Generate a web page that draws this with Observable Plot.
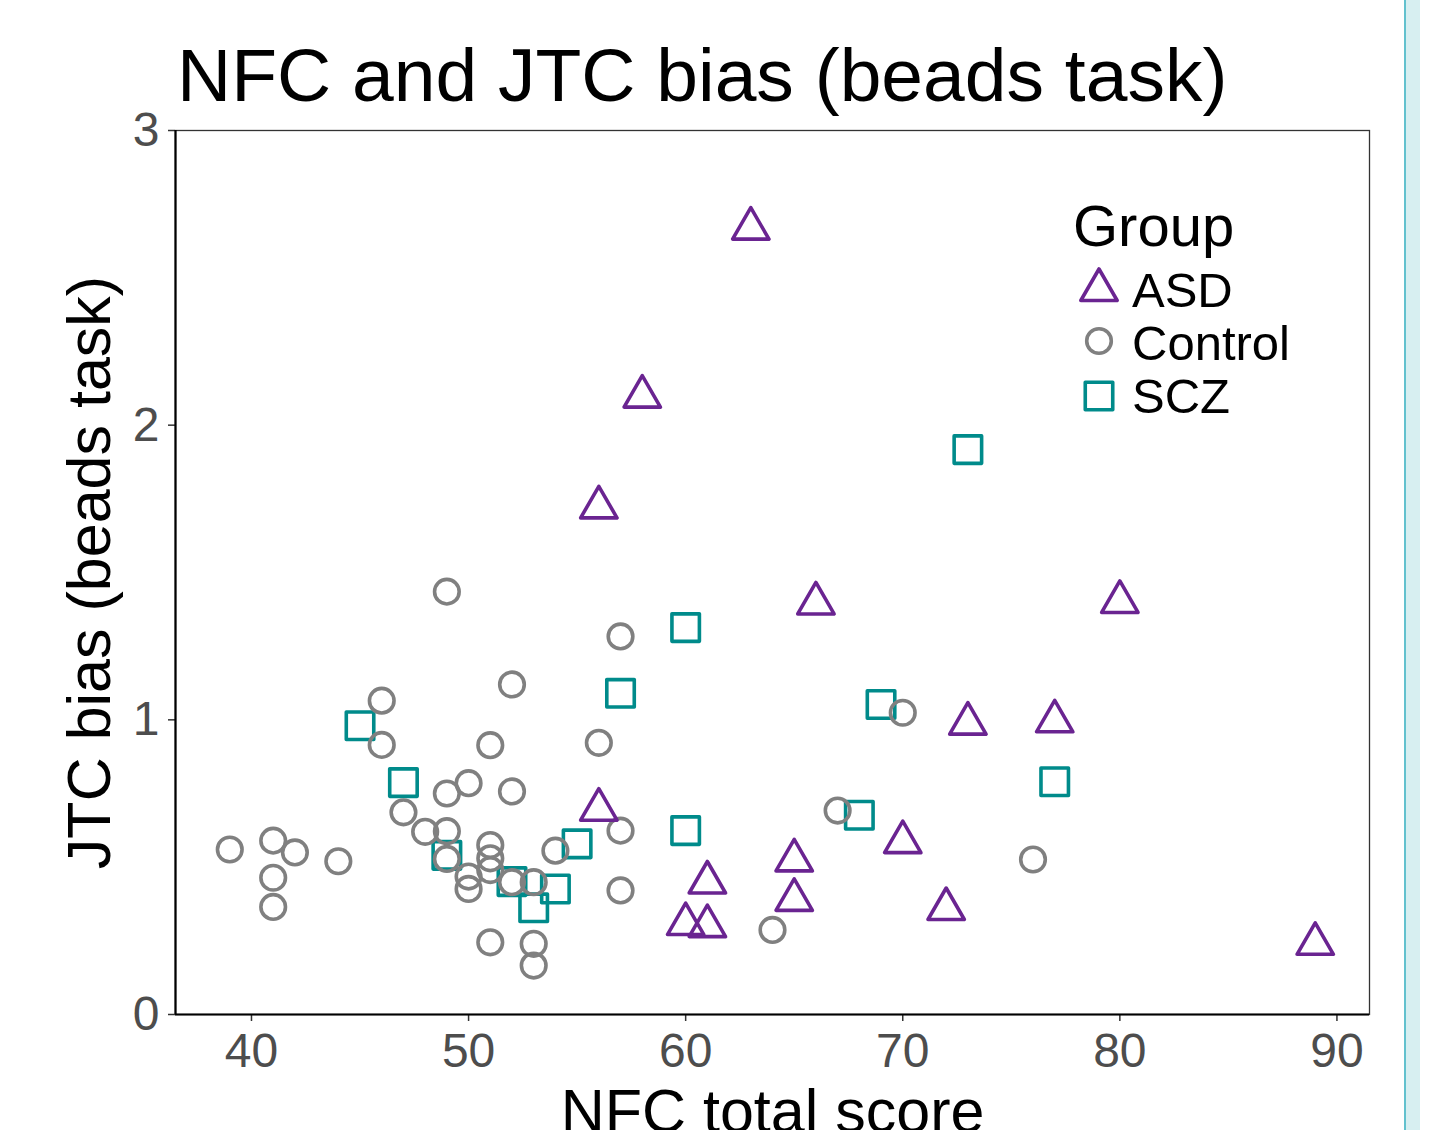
<!DOCTYPE html>
<html>
<head>
<meta charset="utf-8">
<script src="https://cdn.jsdelivr.net/npm/d3@7"></script>
<script src="https://cdn.jsdelivr.net/npm/@observablehq/plot@0.6"></script>
<style>
  body { margin: 0; background: #fff; }
  #wrap { position: relative; width: 1436px; height: 1130px; overflow: hidden;
          font-family: "Liberation Sans", Arial, sans-serif; background: #fff; }
  #chart { position: absolute; left: 0; top: 0; }
  #title { position: absolute; left: 177px; top: 38px; font-size: 75px; line-height: 74px;
           white-space: nowrap; color: #000; }
  #legend { position: absolute; left: 0; top: 0; }
  #edge { position: absolute; left: 1404px; top: 0; width: 16px; height: 1130px;
          background: #d7eff1; border-left: 2px solid #62c1ce; box-sizing: border-box; }
</style>
</head>
<body>
<div id="wrap">
  <div id="chart"></div>
  <div id="title">NFC and JTC bias (beads task)</div>
  <svg id="legend" width="1436" height="1130"></svg>
  <div id="edge"></div>
</div>
<script>
// ---- data ----
const groups = ["ASD", "Control", "SCZ"];
const groupColors = ["#6a2491", "#808080", "#008b8b"];
const groupSymbols = ["triangle", "circle", "square"];

const asdNFC = [63, 58, 56, 66, 80, 73, 77, 56, 70, 65, 61, 65, 72, 60, 61, 89];
const asdJTC = [2.667, 2.097, 1.721, 1.395, 1.40, 0.987, 0.995, 0.695, 0.585, 0.523, 0.448, 0.389, 0.358, 0.307, 0.30, 0.24];

const controlNFC = [39, 41, 42, 41, 41, 44, 46, 46, 47, 48, 49, 49, 49, 49, 50, 50, 50, 51, 51, 51, 51, 51, 52, 52, 52, 53, 53, 53, 54, 56, 57, 57, 57, 64, 67, 70, 76];
const controlJTC = [0.56, 0.59, 0.55, 0.464, 0.365, 0.52, 1.065, 0.915, 0.686, 0.62, 1.435, 0.75, 0.622, 0.528, 0.785, 0.468, 0.426, 0.914, 0.575, 0.53, 0.49, 0.245, 1.12, 0.757, 0.449, 0.449, 0.24, 0.166, 0.556, 0.922, 1.283, 0.624, 0.421, 0.287, 0.692, 1.024, 0.526];

const sczNFC = [45, 47, 49, 52, 53, 54, 55, 57, 60, 60, 68, 69, 73, 77];
const sczJTC = [0.98, 0.787, 0.54, 0.451, 0.362, 0.426, 0.579, 1.09, 1.313, 0.624, 0.676, 1.052, 1.917, 0.79];

const xTicks = [40, 50, 60, 70, 80, 90];
const yTicks = [0, 1, 2, 3];
const xDomain = [36.5, 91.5];
const yDomain = [0, 3];
const titleText = "NFC and JTC bias (beads task)";
const xLabel = "NFC total score";
const yLabel = "JTC bias (beads task)";
const legendTitle = "Group";

// ---- build table ----
const toRows = (g, xs, ys) => xs.map((x, i) => ({group: g, nfc: x, jtc: ys[i]}));
const scz = toRows("SCZ", sczNFC, sczJTC);
const control = toRows("Control", controlNFC, controlJTC);
const asd = toRows("ASD", asdNFC, asdJTC);

const symR = {ASD: 13.5, Control: 12.3, SCZ: 15.5};
const strokeW = 3.6;
const font = "Liberation Sans, Arial, sans-serif";

const dotOpts = (g) => ({
  x: "nfc", y: "jtc", symbol: "group", stroke: "group",
  r: symR[g], strokeWidth: strokeW, fill: "none", strokeLinejoin: "round"
});

const plot = Plot.plot({
  width: 1436,
  height: 1130,
  marginTop: 130,
  marginLeft: 175,
  marginRight: 67,
  marginBottom: 116,
  style: {fontFamily: font, background: "transparent", overflow: "visible"},
  x: {domain: xDomain},
  y: {domain: yDomain},
  color: {domain: groups, range: groupColors},
  symbol: {domain: groups, range: groupSymbols},
  marks: [
    Plot.frame({stroke: "#333", strokeWidth: 1.3}),
    Plot.axisX({ticks: xTicks, tickSize: 7, tickPadding: 11, fontSize: 48, tickFormat: "d",
                stroke: "#333", strokeWidth: 1.5, fill: "#4d4d4d", label: null}),
    Plot.axisY({ticks: yTicks, tickSize: 7, tickPadding: 9, fontSize: 48, tickFormat: "d",
                stroke: "#333", strokeWidth: 1.5, fill: "#4d4d4d", label: null}),
    Plot.ruleX([xDomain[0]], {stroke: "#000", strokeWidth: 2.2}),
    Plot.ruleY([yDomain[0]], {stroke: "#000", strokeWidth: 2.2}),
    Plot.dot(scz, dotOpts("SCZ")),
    Plot.dot(control, dotOpts("Control")),
    Plot.dot(asd, dotOpts("ASD")),
    Plot.text([xLabel], {frameAnchor: "bottom", dy: 117, lineAnchor: "bottom",
                         fontSize: 61, fill: "#000", textAnchor: "middle"}),
    Plot.text([yLabel], {frameAnchor: "left", dx: -66, rotate: -90, lineAnchor: "bottom",
                         fontSize: 61, fill: "#000", textAnchor: "middle"})
  ]
});
document.getElementById("chart").appendChild(plot);
document.getElementById("title").textContent = titleText;

// ---- legend ----
const lg = d3.select("#legend");
lg.append("text").attr("x", 1073).attr("y", 246)
  .attr("font-family", font).attr("font-size", 58).attr("fill", "#000").text(legendTitle);
const symMap = {triangle: d3.symbolTriangle, circle: d3.symbolCircle, square: d3.symbolSquare};
const rowY = [290, 341, 396];
const textY = [307, 360, 413];
groups.forEach((g, i) => {
  const r = symR[g];
  lg.append("path")
    .attr("transform", `translate(1099,${rowY[i]})`)
    .attr("d", d3.symbol(symMap[groupSymbols[i]], Math.PI * r * r)())
    .attr("fill", "none").attr("stroke", groupColors[i])
    .attr("stroke-width", strokeW).attr("stroke-linejoin", "round");
  lg.append("text").attr("x", 1132).attr("y", textY[i])
    .attr("font-family", font).attr("font-size", 49).attr("fill", "#000").text(g);
});
</script>
</body>
</html>
